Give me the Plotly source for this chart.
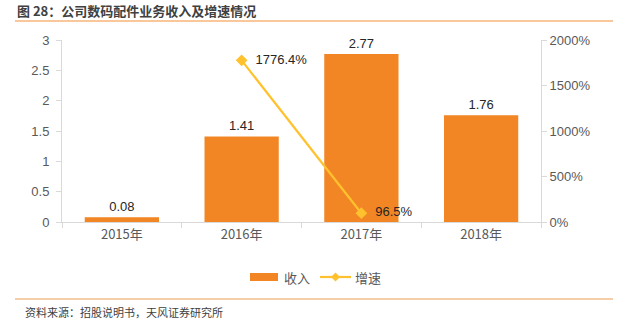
import plotly.graph_objects as go

# Revenue (100m CNY) and year-on-year growth (%) of the digital accessories business
years = ["2015年", "2016年", "2017年", "2018年"]
revenue = [0.08, 1.41, 2.77, 1.76]
growth = [None, 1776.4, 96.5, None]
growth_labels = ["", "  1776.4%", "  96.5%", ""]

W, H = 633, 324
L, R, T, B = 62, 541, 40, 222  # plot area in pixels

BAR_COL = "#F28524"
LINE_COL = "#FFC22E"


def px(x):
    return (x - L) / (R - L)


def py(y):
    return (B - y) / (B - T)


CN = "Noto Sans CJK SC"
NUM = "Liberation Sans, Arial, sans-serif"

fig = go.Figure()
fig.add_trace(go.Bar(
    x=years, y=revenue, name="收入",
    marker=dict(color=BAR_COL, line=dict(width=0)),
    width=0.62,
    text=[f"{v:.2f}" for v in revenue], textposition="outside",
    textfont=dict(family=NUM, size=13, color="#262626"),
    cliponaxis=False,
))
fig.add_trace(go.Scatter(
    x=years, y=growth, name="增速", yaxis="y2",
    mode="lines+markers+text",
    line=dict(color=LINE_COL, width=2.2),
    marker=dict(symbol="diamond", size=9, color=LINE_COL),
    text=growth_labels, textposition="middle right",
    textfont=dict(family=NUM, size=13, color="#262626"),
    cliponaxis=False, connectgaps=False,
))

axis_col = "#D9D9D9"
tick_font = dict(family=NUM, size=13, color="#595959")
legend_font = dict(family=CN, size=13, color="#595959")

# Legend drawn by hand: wide bar swatch and a line swatch with a diamond
ly = 277
legend_shapes = [
    dict(type="rect", xref="paper", yref="paper", x0=px(250), x1=px(278),
         y0=py(281), y1=py(273), fillcolor=BAR_COL, line=dict(width=0)),
    dict(type="line", xref="paper", yref="paper", x0=px(320), x1=px(351),
         y0=py(ly), y1=py(ly), line=dict(color=LINE_COL, width=2.2)),
    dict(type="path", xref="paper", yref="paper",
         path=(f"M {px(335.5)},{py(ly - 4.5)} L {px(340)},{py(ly)} "
               f"L {px(335.5)},{py(ly + 4.5)} L {px(331)},{py(ly)} Z"),
         fillcolor=LINE_COL, line=dict(width=0)),
]
legend_texts = [
    dict(text="收入", xref="paper", yref="paper", x=px(282), y=py(ly),
         xanchor="left", yanchor="middle", showarrow=False, font=legend_font),
    dict(text="增速", xref="paper", yref="paper", x=px(353), y=py(ly),
         xanchor="left", yanchor="middle", showarrow=False, font=legend_font),
]

fig.update_layout(
    width=W, height=H,
    margin=dict(l=L, r=W - R, t=T, b=H - B),
    paper_bgcolor="white", plot_bgcolor="white",
    showlegend=False,
    xaxis=dict(type="category", showline=True, linecolor=axis_col, linewidth=1,
               ticks="outside", tickson="boundaries", ticklen=5, tickcolor=axis_col,
               tickfont=dict(family=CN, size=13, color="#595959"),
               showgrid=False, zeroline=False, fixedrange=True),
    yaxis=dict(range=[0, 3], dtick=0.5, showline=True, linecolor=axis_col,
               ticks="outside", ticklen=5, tickcolor=axis_col, tickfont=tick_font,
               showgrid=False, zeroline=False, ticklabelstandoff=4),
    yaxis2=dict(range=[0, 2000], dtick=500, overlaying="y", side="right",
                ticksuffix="%", showline=True, linecolor=axis_col,
                ticks="outside", ticklen=5, tickcolor=axis_col, tickfont=tick_font,
                showgrid=False, zeroline=False),
    annotations=[
        dict(text="<b>图 28：公司数码配件业务收入及增速情况</b>", xref="paper", yref="paper",
             x=px(15), y=py(11), xanchor="left", yanchor="middle", showarrow=False,
             font=dict(family=CN, size=13, color="#404040")),
        dict(text="资料来源：招股说明书，天风证券研究所", xref="paper", yref="paper",
             x=px(23), y=py(312), xanchor="left", yanchor="middle", showarrow=False,
             font=dict(family=CN, size=11, color="#404040")),
    ] + legend_texts,
    shapes=[
        dict(type="line", xref="paper", yref="paper", x0=px(15), x1=px(613),
             y0=py(21), y1=py(21), line=dict(color="#F9B57A", width=1.5)),
        dict(type="line", xref="paper", yref="paper", x0=px(15), x1=px(613),
             y0=py(299), y1=py(299), line=dict(color="#EE9B55", width=1.2)),
    ] + legend_shapes,
)

fig.write_html("out.html")
